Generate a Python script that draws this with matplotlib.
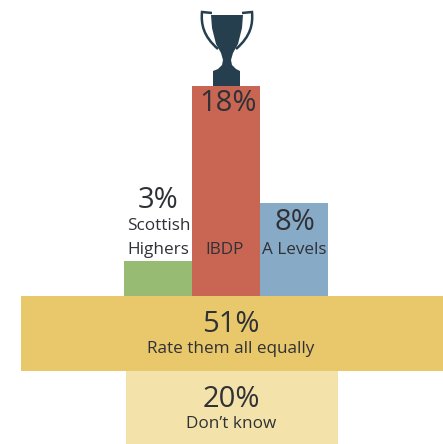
import matplotlib
matplotlib.use("Agg")
import matplotlib.pyplot as plt
from matplotlib.patches import Polygon, PathPatch
from matplotlib.path import Path

# top podium: share of respondents per qualification
podium_labels = ["Scottish\nHighers", "IBDP", "A Levels"]
podium_values = [3, 18, 8]
podium_colors = ["#97bb72", "#c96653", "#87aac6"]

# lower bands
band_labels = ["Rate them all equally", "Don\u2019t know"]
band_values = [51, 20]
band_colors = ["#e9c86b", "#f3e3aa"]

TEXT = "#2f3136"
plt.rcParams["font.family"] = ["Open Sans", "DejaVu Sans"]

fig = plt.figure(figsize=(4.43, 4.44), dpi=100)
ax = fig.add_axes([0, 0, 1, 1])
ax.set_xlim(0, 443)
ax.set_ylim(444, 0)  # pixel units, y downwards
ax.axis("off")

# podium bars, negative heights because the y axis points down
base_y = 296
px_per_pct = 11.67
centers = [158.5, 226.5, 294.5]
ax.bar(centers, [-v * px_per_pct for v in podium_values], width=68,
       bottom=base_y, color=podium_colors)

big = 21
small = 12.3
ax.text(centers[0], 200, f"{podium_values[0]}%", ha="center", va="center", fontsize=big, color=TEXT)
ax.text(centers[0], 226, podium_labels[0].split("\n")[0], ha="center", va="center", fontsize=small, color=TEXT)
ax.text(centers[0], 250, podium_labels[0].split("\n")[1], ha="center", va="center", fontsize=small, color=TEXT)
ax.text(228, 103, f"{podium_values[1]}%", ha="center", va="center", fontsize=big, color=TEXT)
ax.text(225, 250, podium_labels[1], ha="center", va="center", fontsize=small, color=TEXT)
ax.text(centers[2], 222, f"{podium_values[2]}%", ha="center", va="center", fontsize=big, color=TEXT)
ax.text(centers[2], 250, podium_labels[2], ha="center", va="center", fontsize=small, color=TEXT)

# bands under the podium
ax.barh(333.5, 422, height=75, left=21, color=band_colors[0])
ax.barh(407.5, 212, height=73, left=126, color=band_colors[1])
ax.text(231, 324, f"{band_values[0]}%", ha="center", va="center", fontsize=big, color=TEXT)
ax.text(231, 349, band_labels[0], ha="center", va="center", fontsize=small, color=TEXT)
ax.text(231, 399, f"{band_values[1]}%", ha="center", va="center", fontsize=big, color=TEXT)
ax.text(231, 424, band_labels[1], ha="center", va="center", fontsize=small, color=TEXT)

# trophy
DARK = "#263f4f"
cup = [(211, 15), (243, 15), (242, 28), (238, 44), (233, 53), (231, 60), (232, 65), (236, 69),
       (240, 71), (240, 86), (213, 86), (213, 71), (218, 69), (222, 65), (223, 60),
       (221, 53), (216, 44), (212, 28)]
ax.add_patch(Polygon(cup, closed=True, fc=DARK, ec="none"))
left_handle = Path([(212, 13), (202, 12), (201, 24), (203, 36), (218, 49)],
                   [Path.MOVETO, Path.LINETO, Path.CURVE4, Path.CURVE4, Path.CURVE4])
right_handle = Path([(242, 13), (252, 12), (253, 24), (251, 36), (236, 49)],
                    [Path.MOVETO, Path.LINETO, Path.CURVE4, Path.CURVE4, Path.CURVE4])
for handle in (left_handle, right_handle):
    ax.add_patch(PathPatch(handle, fc="none", ec=DARK, lw=1.8))

fig.savefig("out.png", dpi=100)
